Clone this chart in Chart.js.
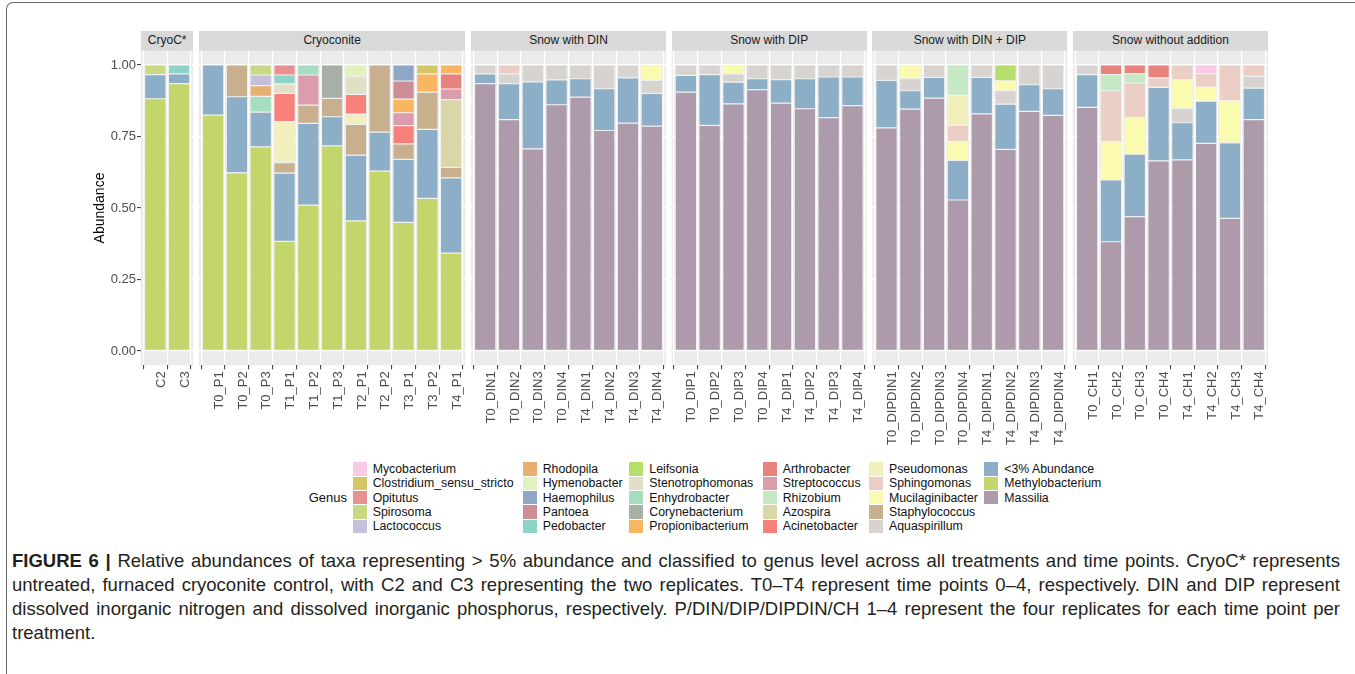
<!DOCTYPE html>
<html>
<head>
<meta charset="utf-8">
<script src="https://cdn.jsdelivr.net/npm/chart.js@4.4.1/dist/chart.umd.min.js"></script>
<style>
html,body{margin:0;padding:0;background:#fff;}
body{width:1355px;height:674px;position:relative;overflow:hidden;font-family:"Liberation Sans",Arial,sans-serif;}
.frame{position:absolute;left:6px;top:2px;width:1400px;height:720px;border-top:1.5px solid #6a6a6a;border-left:1.5px solid #6a6a6a;border-top-left-radius:7px;box-sizing:border-box;}
.strip{position:absolute;top:31.3px;height:19.4px;background:#D9D9D9;color:#1A1A1A;font-size:12px;line-height:19.4px;text-align:center;white-space:nowrap;}
.cw{position:absolute;}
.key{position:absolute;width:14px;height:13.4px;}
.ltxt{position:absolute;font-size:12.3px;color:#111;white-space:nowrap;line-height:14px;}
.gtitle{position:absolute;font-size:13px;color:#111;white-space:nowrap;line-height:14px;}
.cap{position:absolute;left:12px;top:549px;width:1328px;font-size:18.5px;line-height:24px;color:#231F20;}
.cap .l{white-space:nowrap;height:24px;}
</style>
</head>
<body>
<div class="frame"></div>
<div id="root"></div>
<div class="cap" id="cap">
<div class="l j"><b>FIGURE 6 |</b> Relative abundances of taxa representing &gt; 5% abundance and classified to genus level across all treatments and time points. CryoC* represents</div>
<div class="l j">untreated, furnaced cryoconite control, with C2 and C3 representing the two replicates. T0–T4 represent time points 0–4, respectively. DIN and DIP represent</div>
<div class="l j">dissolved inorganic nitrogen and dissolved inorganic phosphorus, respectively. P/DIN/DIP/DIPDIN/CH 1–4 represent the four replicates for each time point per</div>
<div class="l">treatment.</div>
</div>
<script>
// ---------------- DATA ----------------
const panelTitles = ['CryoC*', 'Cryoconite', 'Snow with DIN', 'Snow with DIP', 'Snow with DIN + DIP', 'Snow without addition'];
const cryoCSamples = ['C2', 'C3'];
const cryoconiteSamples = ['T0_P1', 'T0_P2', 'T0_P3', 'T1_P1', 'T1_P2', 'T1_P3', 'T2_P1', 'T2_P2', 'T3_P1', 'T3_P2', 'T4_P1'];
const dinSamples = ['T0_DIN1', 'T0_DIN2', 'T0_DIN3', 'T0_DIN4', 'T4_DIN1', 'T4_DIN2', 'T4_DIN3', 'T4_DIN4'];
const dipSamples = ['T0_DIP1', 'T0_DIP2', 'T0_DIP3', 'T0_DIP4', 'T4_DIP1', 'T4_DIP2', 'T4_DIP3', 'T4_DIP4'];
const dinDipSamples = ['T0_DIPDIN1', 'T0_DIPDIN2', 'T0_DIPDIN3', 'T0_DIPDIN4', 'T4_DIPDIN1', 'T4_DIPDIN2', 'T4_DIPDIN3', 'T4_DIPDIN4'];
const noAdditionSamples = ['T0_CH1', 'T0_CH2', 'T0_CH3', 'T0_CH4', 'T4_CH1', 'T4_CH2', 'T4_CH3', 'T4_CH4'];
const yTicks = [0, 0.25, 0.5, 0.75, 1];
const yMinor = [0.125, 0.375, 0.625, 0.875];

// values per genus, samples in panel order: CryoC*(2) | Cryoconite(11) | DIN(8) | DIP(8) | DIN+DIP(8) | none(8)
const mycobacterium = [0,0,
  0,0,0,0,0,0,0,0,0,0,0,
  0,0,0,0,0,0,0,0,
  0,0,0,0,0,0,0,0,
  0,0,0,0,0,0,0,0,
  0,0,0,0,0,.030,0,0];
const clostridium = [0,0,
  0,0,0,0,0,0,0,0,0,.031,0,
  0,0,0,0,0,0,0,0,
  0,0,0,0,0,0,0,0,
  0,0,0,0,0,0,0,0,
  0,0,0,0,0,0,0,0];
const opitutus = [0,0,
  0,0,0,.035,0,0,0,0,0,0,0,
  0,0,0,0,0,0,0,0,
  0,0,0,0,0,0,0,0,
  0,0,0,0,0,0,0,0,
  0,0,0,0,0,0,0,0];
const spirosoma = [.034,0,
  0,0,.035,0,0,0,0,0,0,0,0,
  0,0,0,0,0,0,0,0,
  0,0,0,0,0,0,0,0,
  0,0,0,0,0,0,0,0,
  0,0,0,0,0,0,0,0];
const lactococcus = [0,0,
  0,0,.037,0,0,0,0,0,0,0,0,
  0,0,0,0,0,0,0,0,
  0,0,0,0,0,0,0,0,
  0,0,0,0,0,0,0,0,
  0,0,0,0,0,0,0,0];
const rhodopila = [0,0,
  0,0,.038,0,0,0,0,0,0,0,0,
  0,0,0,0,0,0,0,0,
  0,0,0,0,0,0,0,0,
  0,0,0,0,0,0,0,0,
  0,0,0,0,0,0,0,0];
const hymenobacter = [0,0,
  0,0,0,0,0,0,.041,0,0,0,0,
  0,0,0,0,0,0,0,0,
  0,0,0,0,0,0,0,0,
  0,0,0,0,0,0,0,0,
  0,0,0,0,0,0,0,0];
const haemophilus = [0,0,
  0,0,0,0,0,0,0,0,.056,0,0,
  0,0,0,0,0,0,0,0,
  0,0,0,0,0,0,0,0,
  0,0,0,0,0,0,0,0,
  0,0,0,0,0,0,0,0];
const pantoea = [0,0,
  0,0,0,0,0,0,0,0,.063,0,0,
  0,0,0,0,0,0,0,0,
  0,0,0,0,0,0,0,0,
  0,0,0,0,0,0,0,0,
  0,0,0,0,0,0,0,0];
const pedobacter = [0,.031,
  0,0,0,.031,0,0,0,0,0,0,0,
  0,0,0,0,0,0,0,0,
  0,0,0,0,0,0,0,0,
  0,0,0,0,0,0,0,0,
  0,0,0,0,0,0,0,0];
const leifsonia = [0,0,
  0,0,0,0,0,0,0,0,0,0,0,
  0,0,0,0,0,0,0,0,
  0,0,0,0,0,0,0,0,
  0,0,0,0,0,.055,0,0,
  0,0,0,0,0,0,0,0];
const stenotrophomonas = [0,0,
  0,0,0,.033,0,0,.062,0,0,0,0,
  0,0,0,0,0,0,0,0,
  0,0,0,0,0,0,0,0,
  0,0,0,0,0,0,0,0,
  0,0,0,0,0,0,0,0];
const enhydrobacter = [0,0,
  0,0,.055,0,.035,0,0,0,0,0,0,
  0,0,0,0,0,0,0,0,
  0,0,0,0,0,0,0,0,
  0,0,0,0,0,0,0,0,
  0,0,0,0,0,0,0,0];
const corynebacterium = [0,0,
  0,0,0,0,0,.117,0,0,0,0,0,
  0,0,0,0,0,0,0,0,
  0,0,0,0,0,0,0,0,
  0,0,0,0,0,0,0,0,
  0,0,0,0,0,0,0,0];
const propionibacterium = [0,0,
  0,0,0,0,0,0,0,0,.048,.064,.031,
  0,0,0,0,0,0,0,0,
  0,0,0,0,0,0,0,0,
  0,0,0,0,0,0,0,0,
  0,0,0,0,0,0,0,0];
const arthrobacter = [0,0,
  0,0,0,0,0,0,0,0,0,0,.053,
  0,0,0,0,0,0,0,0,
  0,0,0,0,0,0,0,0,
  0,0,0,0,0,0,0,0,
  0,.034,.030,.045,0,0,0,0];
const streptococcus = [0,0,
  0,0,0,0,.105,0,0,0,.045,0,.037,
  0,0,0,0,0,0,0,0,
  0,0,0,0,0,0,0,0,
  0,0,0,0,0,0,0,0,
  0,0,0,0,0,0,0,0];
const rhizobium = [0,0,
  0,0,0,0,0,0,0,0,0,0,0,
  0,0,0,0,0,0,0,0,
  0,0,0,0,0,0,0,0,
  0,0,0,.106,0,0,0,0,
  0,.056,.033,0,0,0,0,0];
const azospira = [0,0,
  0,0,0,0,0,0,0,0,0,0,.237,
  0,0,0,0,0,0,0,0,
  0,0,0,0,0,0,0,0,
  0,0,0,0,0,0,0,0,
  0,0,0,0,0,0,0,0];
const acinetobacter = [0,0,
  0,0,0,.099,0,0,.069,0,.064,0,0,
  0,0,0,0,0,0,0,0,
  0,0,0,0,0,0,0,0,
  0,0,0,0,0,0,0,0,
  0,0,0,0,0,0,0,0];
const pseudomonas = [0,0,
  0,0,0,.143,0,0,.036,0,0,0,0,
  0,0,0,0,0,0,0,0,
  0,0,0,0,0,0,0,0,
  0,0,0,.105,0,0,0,0,
  0,0,0,0,0,0,0,0];
const sphingomonas = [0,0,
  0,0,0,0,0,0,0,0,0,0,0,
  0,.031,0,0,0,0,0,0,
  0,0,0,0,0,0,0,0,
  0,0,0,.057,0,0,0,0,
  0,.178,.120,.033,.051,.047,.125,.040];
const mucilaginibacter = [0,0,
  0,0,0,0,0,0,0,0,0,0,0,
  0,0,0,0,0,0,0,.054,
  0,0,.031,0,0,0,0,0,
  0,.048,0,.066,0,.035,0,0,
  0,.134,.129,0,.101,.049,.147,0];
const staphylococcus = [0,0,
  0,.111,0,.037,.064,.064,.107,.235,.054,.130,.037,
  0,0,0,0,0,0,0,0,
  0,0,0,0,0,0,0,0,
  0,0,0,0,0,0,0,0,
  0,0,0,0,0,0,0,0];
const aquaspirillum = [0,0,
  0,0,0,0,0,0,0,0,0,0,0,
  .031,.034,.059,.052,.048,.083,.045,.045,
  .036,.034,.029,.048,.051,.048,.042,.042,
  .054,.042,.043,0,.043,.047,.069,.083,
  .034,0,0,0,.050,0,0,.041];
const lowAbundance = [.084,.034,
  .175,.266,.121,.239,.286,.102,.230,.136,.220,.241,.263,
  .034,.126,.234,.087,.064,.146,.158,.115,
  .059,.177,.076,.038,.082,.105,.142,.100,
  .166,.064,.073,.138,.128,.158,.093,.093,
  .114,.216,.218,.257,.130,.148,.264,.110];
const methylobacterium = [.882,.935,
  .825,.623,.714,.383,.510,.717,.455,.629,.450,.534,.342,
  0,0,0,0,0,0,0,0,
  0,0,0,0,0,0,0,0,
  0,0,0,0,0,0,0,0,
  0,0,0,0,0,0,0,0];
const massilia = [0,0,
  0,0,0,0,0,0,0,0,0,0,0,
  .935,.809,.707,.861,.888,.771,.797,.786,
  .905,.789,.864,.914,.867,.847,.816,.858,
  .780,.846,.884,.528,.829,.705,.838,.824,
  .852,.382,.470,.665,.668,.726,.464,.809];

// legend order (top of stack first)
const genusNames = ['Mycobacterium','Clostridium_sensu_stricto','Opitutus','Spirosoma','Lactococcus',
  'Rhodopila','Hymenobacter','Haemophilus','Pantoea','Pedobacter',
  'Leifsonia','Stenotrophomonas','Enhydrobacter','Corynebacterium','Propionibacterium',
  'Arthrobacter','Streptococcus','Rhizobium','Azospira','Acinetobacter',
  'Pseudomonas','Sphingomonas','Mucilaginibacter','Staphylococcus','Aquaspirillum',
  '<3% Abundance','Methylobacterium','Massilia'];
const genusValues = [mycobacterium, clostridium, opitutus, spirosoma, lactococcus,
  rhodopila, hymenobacter, haemophilus, pantoea, pedobacter,
  leifsonia, stenotrophomonas, enhydrobacter, corynebacterium, propionibacterium,
  arthrobacter, streptococcus, rhizobium, azospira, acinetobacter,
  pseudomonas, sphingomonas, mucilaginibacter, staphylococcus, aquaspirillum,
  lowAbundance, methylobacterium, massilia];

// ---------------- STYLE ----------------
const genusColors = ['#F9CAE3','#D4C664','#E8918F','#C8D983','#C4C0DC',
  '#E9AF72','#E2F2BE','#8EA7C7','#CD8D94','#8ED4C6',
  '#B5DE6A','#E1DFC6','#A6DDC1','#A8AFA6','#F8B562',
  '#E8827D','#DB9DAC','#C5E9C2','#D9D7A8','#F7807A',
  '#F1EFBB','#EBCFC5','#FBFBAF','#C8AF8D','#D6D3D0',
  '#8CAEC6','#C3D66B','#AD9BAC'];
const FONT = '"Liberation Sans", Arial, sans-serif';
const U = 23.8, GAP = 5.5, X0 = 141, PTOP = 50.7, PBOT = 365.3, CTOP = 40, CH = 421, XH = 95, AXW = 71;

const panelSamples = [cryoCSamples, cryoconiteSamples, dinSamples, dipSamples, dinDipSamples, noAdditionSamples];
const gridValues = yTicks.concat(yMinor).sort((a, b) => a - b);
const isMajor = v => yTicks.some(t => Math.abs(t - v) < 1e-9);

const panelBg = {
  id: 'panelBg',
  beforeDraw(chart) {
    const a = chart.chartArea, ctx = chart.ctx;
    ctx.save();
    ctx.fillStyle = '#EBEBEB';
    ctx.fillRect(a.left, a.top, a.right - a.left, a.bottom - a.top);
    ctx.restore();
  }
};

const root = document.getElementById('root');
let start = 0, left = X0;
panelSamples.forEach((labels, pi) => {
  const n = labels.length;
  const L = left, R = left + (n + 0.2) * U;
  left = R + GAP;
  const first = pi === 0;

  const strip = document.createElement('div');
  strip.className = 'strip';
  strip.style.left = L + 'px';
  strip.style.width = (R - L) + 'px';
  strip.textContent = panelTitles[pi];
  root.appendChild(strip);

  const axisW = first ? AXW : 0;
  const cLeft = Math.floor(L) - axisW;
  const cRight = Math.ceil(R) + 1;
  const cw = cRight - cLeft;
  const wrap = document.createElement('div');
  wrap.className = 'cw';
  wrap.style.left = cLeft + 'px';
  wrap.style.top = CTOP + 'px';
  const canvas = document.createElement('canvas');
  canvas.width = cw; canvas.height = CH;
  canvas.style.width = cw + 'px'; canvas.style.height = CH + 'px';
  wrap.appendChild(canvas);
  root.appendChild(wrap);

  const s0 = start;
  start += n;
  const datasets = [];
  for (let g = genusNames.length - 1; g >= 0; g--) {
    const vals = genusValues[g].slice(s0, s0 + n);
    const pts = [];
    vals.forEach((v, i) => { if (v > 0) pts.push({ x: i, y: v }); });
    datasets.push({
      label: genusNames[g],
      data: pts,
      backgroundColor: genusColors[g],
      borderColor: 'rgba(248,248,248,0.85)',
      borderWidth: 0.6,
      borderSkipped: false,
      barPercentage: 0.9,
      categoryPercentage: 1
    });
  }

  new Chart(canvas, {
    type: 'bar',
    data: { datasets },
    options: {
      responsive: false,
      animation: false,
      devicePixelRatio: 1,
      layout: { padding: { left: L - axisW - cLeft, right: cRight - R, top: PTOP - CTOP, bottom: CH - (PBOT - CTOP) - XH } },
      plugins: { legend: { display: false }, tooltip: { enabled: false } },
      scales: {
        x: {
          type: 'linear', stacked: true, min: -0.6, max: n - 0.4, offset: false,
          afterBuildTicks: s => { s.ticks = labels.map((_, i) => ({ value: i })); },
          afterFit: s => { s.height = XH; s.paddingLeft = 0; s.paddingRight = 0; },
          ticks: {
            autoSkip: false, minRotation: 90, maxRotation: 90, labelOffset: 6, padding: 2,
            color: '#4D4D4D', font: { family: FONT, size: 13 },
            callback: (v, i) => labels[i]
          },
          grid: { color: '#FFFFFF', lineWidth: 1.2, drawTicks: true, tickLength: 4, tickColor: '#333333', tickWidth: 1 },
          border: { display: false }
        },
        y: {
          type: 'linear', stacked: true, min: -0.05, max: 1.05,
          afterBuildTicks: s => { s.ticks = gridValues.map(v => ({ value: v })); },
          afterFit: s => { s.width = axisW; s.paddingTop = 0; s.paddingBottom = 0; },
          ticks: {
            display: first, padding: 1, color: '#4D4D4D', font: { family: FONT, size: 13 },
            callback: v => isMajor(v) ? v.toFixed(2) : ''
          },
          grid: {
            color: '#FFFFFF',
            lineWidth: ctx => isMajor(ctx.tick.value) ? 1.2 : 0.6,
            drawTicks: first, tickLength: 4, tickWidth: 1,
            tickColor: ctx => isMajor(ctx.tick.value) ? '#333333' : 'rgba(0,0,0,0)'
          },
          border: { display: false },
          title: {
            display: first, text: 'Abundance', color: '#000000',
            font: { family: FONT, size: 14 }, padding: { top: 21.6, bottom: 0 }
          }
        }
      }
    },
    plugins: [panelBg]
  });
});

// ---------------- LEGEND ----------------
const colX = [352.7, 522.7, 629.3, 762.7, 869, 984.3];
const rowY = [469, 483.3, 497.7, 512, 526.3];
const gt = document.createElement('div');
gt.className = 'gtitle';
gt.textContent = 'Genus';
gt.style.right = (1355 - 347) + 'px';
gt.style.top = (497.7 - 7) + 'px';
root.appendChild(gt);
genusNames.forEach((name, i) => {
  const c = Math.floor(i / 5), r = i % 5;
  const k = document.createElement('div');
  k.className = 'key';
  k.style.left = colX[c] + 'px';
  k.style.top = (rowY[r] - 6.7) + 'px';
  k.style.background = genusColors[i];
  root.appendChild(k);
  const t = document.createElement('div');
  t.className = 'ltxt';
  t.style.left = (colX[c] + 20) + 'px';
  t.style.top = (rowY[r] - 7) + 'px';
  t.textContent = name;
  root.appendChild(t);
});

// ---------------- CAPTION justification ----------------
document.querySelectorAll('#cap .j').forEach(el => {
  el.style.display = 'inline-block';
  const w = el.getBoundingClientRect().width;
  const spaces = (el.textContent.match(/ /g) || []).length;
  el.style.display = 'block';
  if (spaces > 0) el.style.wordSpacing = ((1328 - w) / spaces) + 'px';
});
</script>
</body>
</html>
